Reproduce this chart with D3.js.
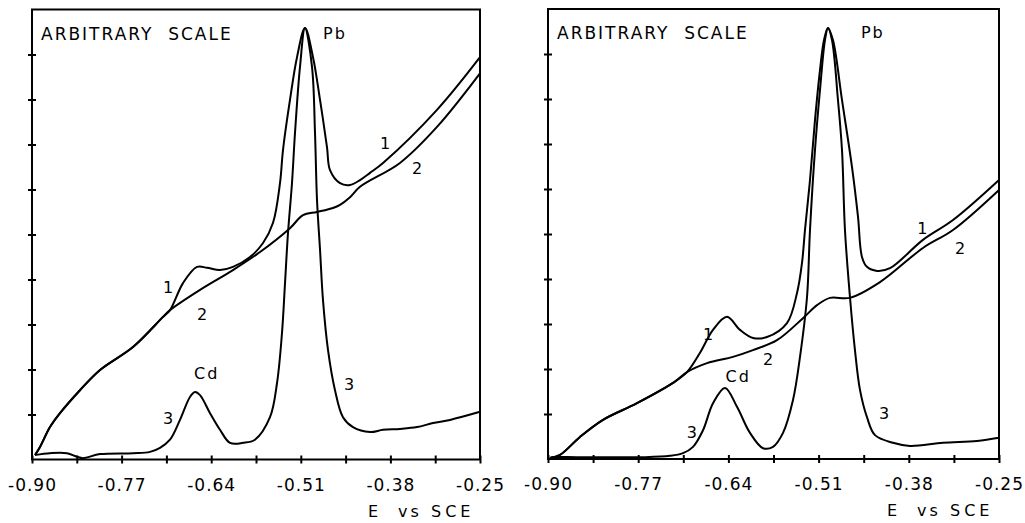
<html>
<script src='https://d3js.org/d3.v7.min.js'></script>
<style>
  body {margin:0; background:#fff;}
  text {font-family:'DejaVu Sans', sans-serif; fill:#000;}
  .curve {fill:none; stroke:#000; stroke-width:2; stroke-linejoin:round;}
</style>
<body onload='init()'>
<svg width=1025 height=523></svg>
<script>
// potential axis (V vs SCE)
var xTicks = [-0.90,-0.835,-0.77,-0.705,-0.64,-0.575,-0.51,-0.445,-0.38,-0.315,-0.25];
var xTickLabels = ["-0.90","-0.77","-0.64","-0.51","-0.38","-0.25"];
var yTicks = [0,1,2,3,4,5,6,7,8,9,10];

// left panel, [E, signal]
var leftCurve1 = [[-0.8956,0.10],[-0.8884,0.28],[-0.8739,0.72],[-0.8594,1.03],[-0.8304,1.54],[-0.8013,1.99],
  [-0.7535,2.50],[-0.7099,3.17],[-0.6998,3.32],[-0.6809,3.92],[-0.6606,4.28],[-0.6461,4.26],[-0.6272,4.21],
  [-0.6084,4.28],[-0.5837,4.50],[-0.5648,4.81],[-0.5503,5.26],[-0.5402,6.14],[-0.5358,6.88],[-0.5257,7.99],
  [-0.5155,8.94],[-0.5039,9.59],[-0.4923,8.94],[-0.4821,7.99],[-0.4720,6.94],[-0.4676,6.43],[-0.4531,6.14],
  [-0.4386,6.10],[-0.4241,6.21],[-0.4096,6.37],[-0.3907,6.59],[-0.3124,7.77],[-0.25,8.94]];
var leftCurve2 = [[-0.8956,0.10],[-0.8884,0.28],[-0.8739,0.72],[-0.8594,1.03],[-0.8304,1.54],[-0.8013,1.99],
  [-0.7535,2.50],[-0.7099,3.17],[-0.6998,3.32],[-0.6562,3.77],[-0.6084,4.21],[-0.5692,4.61],[-0.5257,5.14],
  [-0.5068,5.43],[-0.4865,5.50],[-0.4633,5.59],[-0.4531,5.66],[-0.4386,5.83],[-0.4241,6.06],[-0.3661,6.59],
  [-0.3124,7.39],[-0.25,8.58]];
var leftCurve3 = [[-0.8956,0.10],[-0.8739,0.14],[-0.8492,0.14],[-0.8347,0.06],[-0.8260,0.03],[-0.8013,0.12],
  [-0.7535,0.14],[-0.7288,0.17],[-0.7143,0.26],[-0.6998,0.44],[-0.6853,0.88],[-0.6708,1.39],[-0.6635,1.50],
  [-0.6562,1.43],[-0.6417,1.03],[-0.6272,0.66],[-0.6127,0.37],[-0.5939,0.37],[-0.5765,0.44],[-0.5547,0.94],
  [-0.5445,1.70],[-0.5373,2.81],[-0.5329,3.92],[-0.5286,5.03],[-0.5228,6.14],[-0.5184,7.26],[-0.5112,8.72],
  [-0.5039,9.59],[-0.4937,8.72],[-0.4894,7.26],[-0.4865,5.77],[-0.4821,4.66],[-0.4778,3.54],[-0.4705,2.43],
  [-0.4604,1.54],[-0.4488,0.94],[-0.4343,0.72],[-0.4096,0.61],[-0.3907,0.66],[-0.3661,0.68],[-0.3414,0.72],
  [-0.3182,0.81],[-0.2935,0.88],[-0.25,1.06]];

// right panel
var rightCurve1 = [[-0.8971,0.02],[-0.8827,0.09],[-0.8539,0.49],[-0.8207,0.87],[-0.7717,1.24],[-0.7199,1.69],
  [-0.6997,1.93],[-0.6809,2.36],[-0.6622,2.87],[-0.6420,3.16],[-0.6233,2.87],[-0.6046,2.69],[-0.5844,2.71],
  [-0.5556,3.02],[-0.5411,3.69],[-0.5339,4.36],[-0.5296,5.09],[-0.5224,6.20],[-0.5152,7.53],[-0.5080,8.64],
  [-0.5022,9.31],[-0.4965,9.58],[-0.4893,9.31],[-0.4763,7.98],[-0.4619,6.49],[-0.4532,5.38],[-0.4475,4.49],
  [-0.4403,4.27],[-0.4258,4.18],[-0.4071,4.24],[-0.3596,4.87],[-0.3163,5.31],[-0.25,6.20]];
var rightCurve2 = [[-0.8971,0.02],[-0.8827,0.09],[-0.8539,0.49],[-0.8207,0.87],[-0.7717,1.24],[-0.7199,1.69],
  [-0.6997,1.93],[-0.6708,2.13],[-0.6334,2.27],[-0.6046,2.42],[-0.5700,2.64],[-0.5325,3.13],[-0.5123,3.42],
  [-0.4936,3.58],[-0.4648,3.58],[-0.4215,3.93],[-0.3596,4.69],[-0.3163,5.09],[-0.25,5.98]];
var rightCurve3 = [[-0.8971,0.02],[-0.8928,0.04],[-0.8582,0.04],[-0.7962,0.04],[-0.7631,0.04],[-0.7242,0.07],
  [-0.7054,0.13],[-0.6910,0.27],[-0.6766,0.64],[-0.6622,1.24],[-0.6449,1.58],[-0.6276,1.16],[-0.6089,0.58],
  [-0.5901,0.24],[-0.5757,0.27],[-0.5613,0.58],[-0.5469,1.31],[-0.5368,2.27],[-0.5267,3.60],[-0.5224,5.09],
  [-0.5152,6.87],[-0.5080,8.20],[-0.5008,9.31],[-0.4965,9.58],[-0.4907,9.31],[-0.4821,7.98],[-0.4763,6.87],
  [-0.4720,5.09],[-0.4648,3.60],[-0.4576,2.42],[-0.4503,1.53],[-0.4403,0.93],[-0.4287,0.53],[-0.4028,0.36],
  [-0.3783,0.29],[-0.3307,0.36],[-0.2817,0.40],[-0.25,0.47]];

// curve labels: [E, signal, text]
var leftLabels = [[-0.3950,7.0,"1"],[-0.3487,6.45,"2"],[-0.7099,3.8,"1"],[-0.6606,3.2,"2"],
  [-0.6650,1.90,"Cd"],[-0.7099,0.90,"3"],[-0.4474,1.65,"3"],[-0.4778,9.45,"Pb"]];
var rightLabels = [[-0.3680,5.1,"1"],[-0.3134,4.65,"2"],[-0.6766,2.75,"1"],[-0.5901,2.20,"2"],
  [-0.6440,1.82,"Cd"],[-0.7000,0.57,"3"],[-0.4230,0.98,"3"],[-0.4490,9.45,"Pb"]];

function drawPanel(svg, box, curves, labels) {
  var x = d3.scaleLinear().domain([-0.90,-0.25]).range([box.x0, box.x1]);
  var y = d3.scaleLinear().domain([0,10]).range([box.y1, box.y0]);
  var g = svg.append("g");

  var line = d3.line()
    .x(function(d) {return x(d[0]);})
    .y(function(d) {return y(d[1]);})
    .curve(d3.curveCatmullRom.alpha(0.5));
  curves.forEach(function(c) {
    g.append("path").attr("class","curve").attr("d", line(c));
  });

  g.append("rect")
    .attr("x", box.x0).attr("y", box.y0)
    .attr("width", box.x1-box.x0).attr("height", box.y1-box.y0)
    .attr("fill","none").attr("stroke","#000").attr("stroke-width",2);

  // ticks cross the frame: one axis per side
  [4,-4].forEach(function(s) {
    var ax = g.append("g").attr("transform","translate(0,"+box.y1+")")
      .call(d3.axisBottom(x).tickValues(xTicks).tickSize(s).tickFormat(""));
    ax.select(".domain").remove();
    ax.selectAll("line").attr("stroke-width",2);
    var ay = g.append("g").attr("transform","translate("+box.x0+",0)")
      .call(d3.axisLeft(y).tickValues(yTicks.slice(1,10)).tickSize(s).tickFormat(""));
    ay.select(".domain").remove();
    ay.selectAll("line").attr("stroke-width",2);
  });

  var lab = g.append("g").attr("transform","translate(0,"+box.y1+")")
    .call(d3.axisBottom(x).tickValues(xTicks.filter(function(d,i){return i%2==0;}))
      .tickSize(0).tickPadding(19).tickFormat(function(d,i){return xTickLabels[i];}));
  lab.select(".domain").remove();
  lab.selectAll("text").attr("font-size",17).attr("letter-spacing",1)
    .attr("font-family","'DejaVu Sans', sans-serif");

  g.append("text").attr("x", box.x0+9).attr("y", box.y0+30)
    .attr("font-size",17).attr("letter-spacing",2).attr("xml:space","preserve")
    .text("ARBITRARY  SCALE");

  g.selectAll(".clab").data(labels).enter().append("text")
    .attr("class","clab")
    .attr("x", function(d){return x(d[0]);})
    .attr("y", function(d){return y(d[1]);})
    .attr("font-size",16).attr("letter-spacing",2)
    .attr("dominant-baseline","middle")
    .text(function(d){return d[2];});

  var ev = [["E",-112,3],["vs",-82,3],["SCE",-49,4]];
  g.selectAll(".ev").data(ev).enter().append("text")
    .attr("x", function(d){return box.x1 + d[1];})
    .attr("y", box.y1+57)
    .attr("font-size",16).attr("letter-spacing",function(d){return d[2];})
    .text(function(d){return d[0];});
}

function init() {
  var svg = d3.select("svg");
  drawPanel(svg, {x0:32, x1:480, y0:9.5, y1:459.5}, [leftCurve1, leftCurve2, leftCurve3], leftLabels);
  drawPanel(svg, {x0:548, x1:999, y0:9, y1:459}, [rightCurve1, rightCurve2, rightCurve3], rightLabels);
}
</script>
</body>
</html>
